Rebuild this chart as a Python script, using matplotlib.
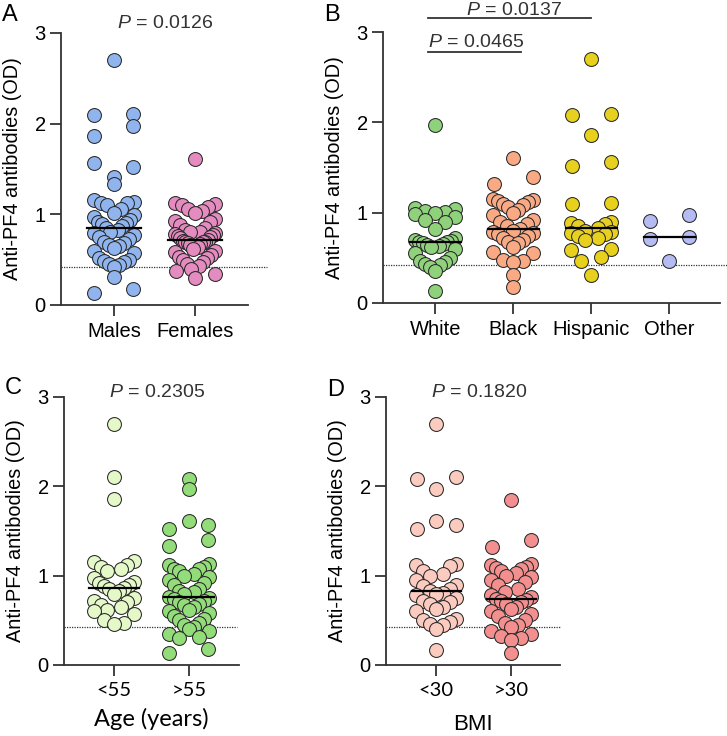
import matplotlib
matplotlib.use("Agg")
import matplotlib.pyplot as plt
import numpy as np

plt.rcParams['font.family'] = ['Liberation Sans', 'DejaVu Sans']
plt.rcParams['mathtext.fontset'] = 'custom'
plt.rcParams['mathtext.it'] = 'Liberation Sans:italic'
plt.rcParams['mathtext.rm'] = 'Liberation Sans'

# ---- data (OD values) ----
males = [2.70, 2.11, 2.10, 1.97, 1.86, 1.57, 1.52, 1.41, 1.34, 1.16, 1.14, 1.13,
         1.12, 1.10, 1.06, 1.02, 0.99, 0.97, 0.94, 0.92, 0.90, 0.89, 0.87, 0.85,
         0.83, 0.81, 0.79, 0.77, 0.75, 0.73, 0.70, 0.68, 0.66, 0.65, 0.63, 0.60,
         0.57, 0.52, 0.50, 0.48, 0.47, 0.45, 0.44, 0.42, 0.31, 0.18, 0.13]
females = [1.61, 1.12, 1.11, 1.10, 1.08, 1.06, 1.04, 1.02, 0.95, 0.93, 0.91, 0.88,
           0.85, 0.83, 0.81, 0.80, 0.79, 0.78, 0.77, 0.76, 0.75, 0.74, 0.72, 0.71,
           0.70, 0.70, 0.69, 0.68, 0.67, 0.66, 0.64, 0.62, 0.60, 0.58, 0.55, 0.53,
           0.52, 0.50, 0.47, 0.45, 0.43, 0.40, 0.38, 0.34, 0.30]

white = [1.97, 1.05, 1.04, 1.02, 1.01, 1.00, 0.98, 0.95, 0.92, 0.90, 0.82, 0.72,
         0.70, 0.69, 0.68, 0.67, 0.66, 0.65, 0.64, 0.63, 0.62, 0.60, 0.55, 0.50,
         0.47, 0.45, 0.43, 0.42, 0.40, 0.35, 0.13]
black = [1.61, 1.40, 1.32, 1.15, 1.14, 1.13, 1.12, 1.10, 1.08, 1.06, 1.03, 1.00,
         0.97, 0.92, 0.90, 0.88, 0.85, 0.82, 0.80, 0.79, 0.78, 0.76, 0.74, 0.72,
         0.70, 0.68, 0.66, 0.62, 0.57, 0.55, 0.48, 0.46, 0.45, 0.31, 0.18]
hispanic = [2.70, 2.09, 2.08, 1.86, 1.56, 1.52, 1.11, 1.10, 0.90, 0.89, 0.87, 0.85,
            0.83, 0.80, 0.79, 0.78, 0.76, 0.74, 0.72, 0.70, 0.60, 0.59, 0.51, 0.47, 0.31]
other = [0.97, 0.91, 0.73, 0.71, 0.47]

age_lt55 = [2.70, 2.10, 1.86, 1.16, 1.15, 1.12, 1.10, 1.08, 1.05, 0.97, 0.93, 0.92,
            0.90, 0.88, 0.86, 0.85, 0.83, 0.80, 0.75, 0.72, 0.70, 0.67, 0.65, 0.62,
            0.60, 0.57, 0.50, 0.47, 0.46]
age_gt55 = [2.08, 1.97, 1.61, 1.57, 1.52, 1.40, 1.33, 1.13, 1.12, 1.10, 1.08, 1.07,
            1.05, 1.02, 1.00, 0.98, 0.95, 0.92, 0.90, 0.85, 0.83, 0.82, 0.80, 0.76,
            0.75, 0.74, 0.72, 0.70, 0.68, 0.67, 0.65, 0.62, 0.60, 0.58, 0.55, 0.52,
            0.50, 0.47, 0.45, 0.43, 0.40, 0.38, 0.35, 0.31, 0.30, 0.18, 0.13]

bmi_lt30 = [2.70, 2.10, 2.08, 1.97, 1.61, 1.57, 1.52, 1.13, 1.12, 1.11, 1.05, 1.02,
            1.00, 0.95, 0.90, 0.88, 0.85, 0.83, 0.81, 0.80, 0.78, 0.75, 0.72, 0.70,
            0.68, 0.65, 0.63, 0.60, 0.52, 0.50, 0.48, 0.46, 0.45, 0.40, 0.17]
bmi_gt30 = [1.85, 1.40, 1.32, 1.13, 1.12, 1.10, 1.09, 1.08, 1.05, 1.03, 1.00, 0.98,
            0.95, 0.93, 0.90, 0.85, 0.82, 0.78, 0.76, 0.74, 0.73, 0.72, 0.70, 0.68,
            0.65, 0.63, 0.60, 0.57, 0.55, 0.50, 0.47, 0.45, 0.42, 0.38, 0.35, 0.32,
            0.30, 0.28, 0.13]

cutoff = 0.42

W, H = 727, 736
panels = [
    dict(letter='A', px=(61, 33, 248, 305), xlim=(-0.65, 1.65),
         groups=[males, females], labels=['Males', 'Females'],
         colors=['#8fb4ee', '#e48cc0'], cut_end=1.88, letter_y=15),
    dict(letter='B', px=(383, 32, 720, 303), xlim=(-0.67, 3.65),
         groups=[white, black, hispanic, other],
         labels=['White', 'Black', 'Hispanic', 'Other'],
         colors=['#8fd27b', '#f9aa84', '#e8d11e', '#b5bcf3'], cut_end=4.1, letter_y=15),
    dict(letter='C', px=(64, 397, 239, 665), xlim=(-0.67, 1.67),
         groups=[age_lt55, age_gt55], labels=['<55', '>55'],
         colors=['#e4f8c8', '#93dc7a'], cut_end=1.64, letter_y=388),
    dict(letter='D', px=(386, 397, 560, 665), xlim=(-0.67, 1.65),
         groups=[bmi_lt30, bmi_gt30], labels=['<30', '>30'],
         colors=['#fccbbf', '#f38f8e'], cut_end=1.65, letter_y=390),
]


def swarm_offsets(vals, step, max_half, bin_h=0.2):
    # GraphPad-like: bin by value, lowest of each bin in the middle, rest fan out
    vals = np.asarray(vals)
    offs = np.zeros(len(vals))
    bins = np.floor(vals / bin_h).astype(int)
    for b in np.unique(bins):
        idx = np.where(bins == b)[0]
        idx = idx[np.argsort(vals[idx])]
        n = len(idx)
        if n % 2:
            pos = [(k + 1) // 2 * (1 if k % 2 else -1) for k in range(n)]
        else:
            pos = [(k // 2 + 1) * (-1 if k % 2 == 0 else 1) for k in range(n)]
        far = max(abs(q) for q in pos)
        st = step if far == 0 else min(step, max_half / far)
        for k, i in enumerate(idx):
            offs[i] = pos[k] * st
    return offs


fig = plt.figure(figsize=(W / 100, H / 100), dpi=100)
for p in panels:
    x0, y0, x1, y1 = p['px']
    ax = fig.add_axes([x0 / W, 1 - y1 / H, (x1 - x0) / W, (y1 - y0) / H])
    ppu = (x1 - x0) / (p['xlim'][1] - p['xlim'][0])
    for i, (vals, col) in enumerate(zip(p['groups'], p['colors'])):
        xo = swarm_offsets(vals, 19.5 / ppu, 20 / ppu)
        ax.scatter(i + xo, vals, s=100, c=col, edgecolors='#2a2a2a',
                   linewidths=0.75, zorder=3, clip_on=False)
        med = np.median(vals)
        ax.plot([i - 0.33, i + 0.33], [med, med], color='black', lw=1.6, zorder=4)
    ax.plot([p['xlim'][0], p['cut_end']], [cutoff, cutoff], ls=(0, (1, 1)),
            color='#333333', lw=0.9, zorder=2, clip_on=False)
    ax.set_xlim(*p['xlim'])
    ax.set_ylim(0, 3)
    ax.set_yticks([0, 1, 2, 3])
    ax.set_xticks(range(len(p['labels'])))
    xfont = 'Lato' if p['letter'] in 'CD' else 'Liberation Sans'
    ax.set_xticklabels(p['labels'], fontsize=14.5, family=xfont)
    ax.tick_params(axis='y', labelsize=14.5, length=8, width=1.3, color='#333333', pad=3)
    ax.tick_params(axis='x', length=8, width=1.3, color='#333333', pad=4)
    for s in ['top', 'right']:
        ax.spines[s].set_visible(False)
    for s in ['left', 'bottom']:
        ax.spines[s].set_linewidth(1.3)
        ax.spines[s].set_color('#333333')
    ax.set_ylabel('Anti-PF4 antibodies (OD)', fontsize=14.3, labelpad=9)
    fig.text((x0 - 59) / W, 1 - p['letter_y'] / H, p['letter'], fontsize=17,
             ha='left', va='center')
    p['ax'] = ax

axA, axB, axC, axD = [p['ax'] for p in panels]


def ptext(ax, x, y, val, ha='center'):
    ax.text(x, y, r'$\it{P}$' + ' = ' + val, fontsize=14, ha=ha, va='baseline',
            color='#333333', clip_on=False)


ptext(axA, 0.63, 3.05, '0.0126')
ptext(axC, 0.58, 3.0, '0.2305')
ptext(axD, 0.57, 3.0, '0.1820')

# bracket lines in B
axB.plot([-0.09, 2.0], [3.15, 3.15], color='#333333', lw=1.3, clip_on=False)
ptext(axB, 1.01, 3.19, '0.0137')
axB.plot([-0.09, 1.1], [2.78, 2.78], color='#333333', lw=1.3, clip_on=False)
ptext(axB, -0.09, 2.835, '0.0465', ha='left')

axC.set_xlabel('Age (years)', fontsize=17, family='Lato', labelpad=7)
axD.set_xlabel('BMI', fontsize=16, labelpad=11)

fig.savefig('out.png', dpi=100)
